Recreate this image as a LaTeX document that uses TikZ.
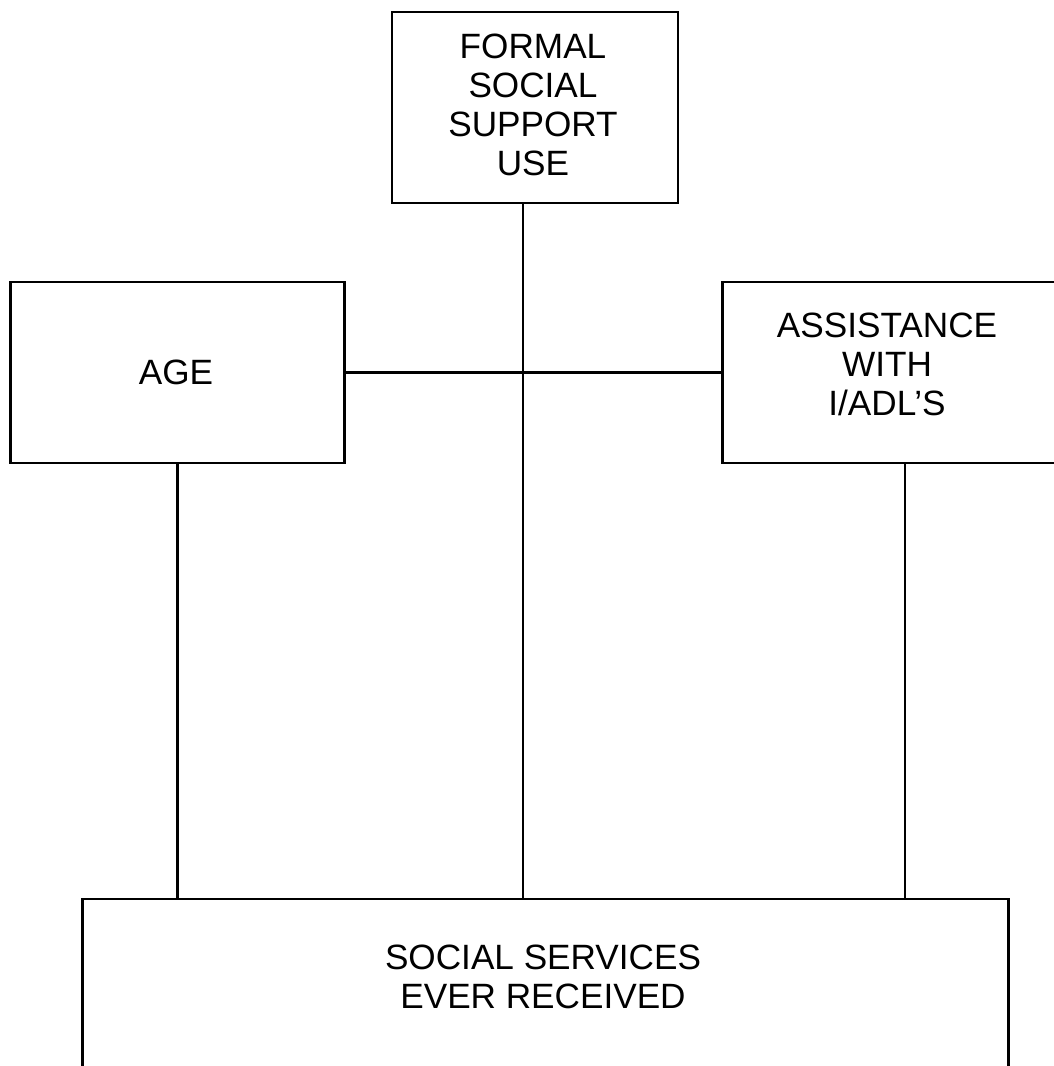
\documentclass[tikz,border=0pt]{standalone}
\usepackage{fontspec}
\setmainfont{Liberation Sans}
\tikzset{
  varbox/.style={draw, line width=0.8pt, inner sep=0pt},
  vartext/.style={align=center, inner sep=0pt, font=\fontsize{10}{11.1}\selectfont},
  link/.style={line width=0.8pt}
}
\begin{document}
\begin{tikzpicture}[x=0.01cm, y=-0.01cm]
  \useasboundingbox (0,0) rectangle (1054,1066);
  % boxes
  \node[varbox, minimum width=2.86cm, minimum height=1.91cm] (formal) at (535,107.5) {};
  \node[varbox, minimum width=3.33cm, minimum height=1.81cm] (age) at (177.5,372.5) {};
  \node[varbox, minimum width=3.47cm, minimum height=1.81cm] (assist) at (896.5,372.5) {};
  \node[varbox, minimum width=9.25cm, minimum height=1.68cm] (social) at (545.5,983) {};
  % texts
  \node[vartext] (formaltxt) at (533,105) {FORMAL\\SOCIAL\\SUPPORT\\USE};
  \node[vartext] (agetxt) at (176,372) {AGE};
  \node[vartext] (assisttxt) at (887,364) {ASSISTANCE\\WITH\\I/ADL'S};
  \node[vartext] (socialtxt) at (543,977) {SOCIAL SERVICES\\EVER RECEIVED};
  % connectors
  \coordinate (fdrop) at (523,203) ;
  \coordinate (adrop) at (905,463) ;
  \draw[link] (fdrop) -- (fdrop |- social.north) ;
  \draw[link] (age.south) -- (age.south |- social.north) ;
  \draw[link] (adrop) -- (adrop |- social.north) ;
  \draw[link] (age.east) -- (assist.west) ;
\end{tikzpicture}
\end{document}
